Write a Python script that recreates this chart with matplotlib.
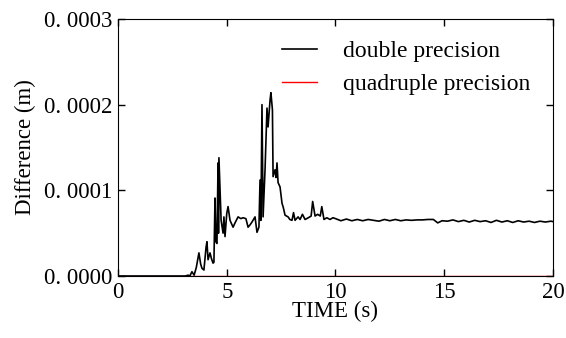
import matplotlib
matplotlib.use("Agg")
import matplotlib.pyplot as plt
import numpy as np

# difference values in units of 1e-4 m
time_s = [0.0, 3.1, 3.22, 3.3, 3.4, 3.5, 3.6, 3.72, 3.8, 3.86, 3.95, 4.05, 4.09,
          4.14, 4.23, 4.3, 4.37, 4.41, 4.46, 4.5, 4.55, 4.6, 4.62, 4.64, 4.74,
          4.83, 4.87, 4.92, 5.0, 5.06, 5.15, 5.29, 5.38, 5.52, 5.65, 5.75, 5.88,
          5.98, 6.08, 6.16, 6.3, 6.39, 6.48, 6.53, 6.57, 6.62, 6.67, 6.76, 6.85,
          6.9, 6.99, 7.03, 7.1, 7.13, 7.22, 7.27, 7.31, 7.36, 7.45, 7.54, 7.6,
          7.68, 7.82, 7.9, 8.0, 8.07, 8.14, 8.28, 8.37, 8.48, 8.6, 8.75, 8.88,
          8.95, 9.06, 9.18, 9.3, 9.37, 9.47, 9.6, 9.75, 9.88,
          10.0, 10.25, 10.5, 10.75, 11.0, 11.25, 11.5, 11.75, 12.0, 12.25, 12.5,
          12.75, 13.0, 13.25, 13.5, 13.75, 14.0, 14.25, 14.5, 14.7, 14.9, 15.15,
          15.4, 15.65, 15.9, 16.15, 16.4, 16.65, 16.9, 17.15, 17.4, 17.65, 17.9,
          18.15, 18.4, 18.65, 18.9, 19.15, 19.4, 19.65, 19.9, 20.0]
double_diff = [0.0, 0.0, 0.01, 0.0, 0.05, 0.01, 0.1, 0.27, 0.14, 0.09, 0.07, 0.34, 0.40,
               0.19, 0.27, 0.2, 0.15, 0.16, 0.91, 0.4, 0.38, 1.32, 0.5, 1.38, 0.65,
               0.50, 0.69, 0.46, 0.73, 0.81, 0.65, 0.57, 0.62, 0.69, 0.67, 0.68, 0.67,
               0.57, 0.6, 0.63, 0.69, 0.51, 0.57, 1.12, 0.65, 2.0, 0.69, 1.24, 1.96,
               1.74, 2.05, 2.14, 1.94, 1.16, 1.24, 1.15, 1.32, 1.09, 1.04, 0.85, 0.8,
               0.71, 0.69, 0.66, 0.65, 0.74, 0.65, 0.69, 0.66, 0.72, 0.66, 0.68, 0.7,
               0.87, 0.7, 0.72, 0.7, 0.81, 0.66, 0.68, 0.66, 0.68,
               0.67, 0.645, 0.665, 0.645, 0.66, 0.645, 0.66, 0.65, 0.64, 0.66, 0.645,
               0.66, 0.645, 0.655, 0.65, 0.655, 0.655, 0.66, 0.66, 0.62, 0.645, 0.64,
               0.655, 0.635, 0.65, 0.63, 0.65, 0.635, 0.645, 0.625, 0.65, 0.63, 0.645,
               0.625, 0.645, 0.63, 0.64, 0.625, 0.64, 0.63, 0.64, 0.635]
quad_time = [0.0, 20.0]
quad_diff = [0.0, 0.0]

yticks = [0.0, 0.0001, 0.0002, 0.0003]
ytick_labels = ["0. 0000", "0. 0001", "0. 0002", "0. 0003"]
xticks = [0, 5, 10, 15, 20]

plt.rcParams["font.family"] = ["Liberation Serif", "DejaVu Serif"]
plt.rcParams["font.size"] = 16.5

fig = plt.figure(figsize=(5.66, 3.38), dpi=100)
ax = fig.add_axes([0.2085, 0.1834, 0.7685, 0.7604])

ax.plot(quad_time, np.array(quad_diff) * 1e-4, color="red", lw=1.0,
        label="quadruple precision", zorder=1)
ax.plot(time_s, np.array(double_diff) * 1e-4, color="black", lw=1.2,
        label="double precision", zorder=2)

ax.set_xlim(0, 20)
ax.set_ylim(0, 0.0003)
ax.set_xticks(xticks)
ax.set_yticks(yticks)
ax.set_yticklabels(ytick_labels)
ax.tick_params(direction="in", top=True, right=True, length=5, width=1,
               labelsize=16.5, pad=4)
ax.set_xlabel("TIME (s)", fontsize=16.5, labelpad=-1)
ax.set_ylabel("Difference (m)", fontsize=16.5, labelpad=6)

handles, labels = ax.get_legend_handles_labels()
ax.legend(handles[::-1], labels[::-1], loc="upper right", frameon=False,
          fontsize=17, handlelength=1.5, handletextpad=1.1, labelspacing=0.5,
          bbox_to_anchor=(0.997, 1.0))

fig.savefig("out.png", dpi=100)
